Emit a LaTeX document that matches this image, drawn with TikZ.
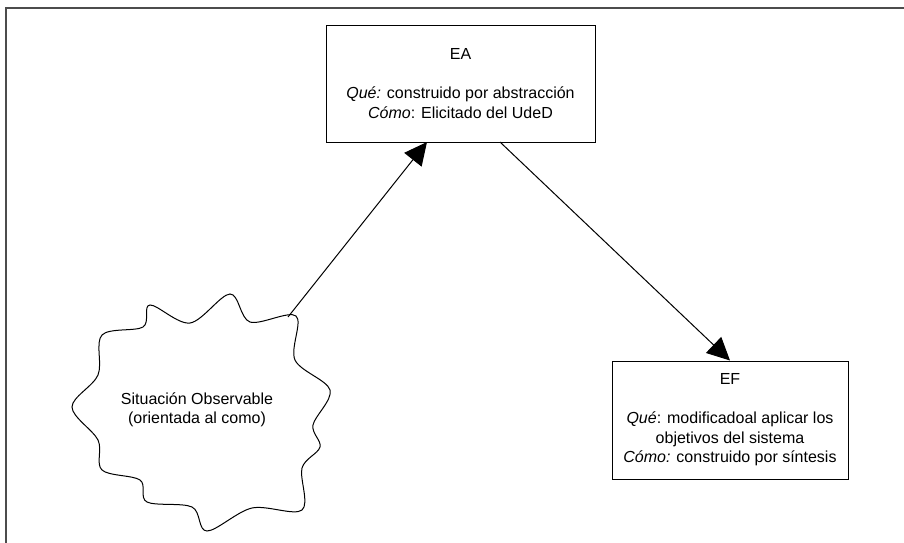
\documentclass[tikz,border=0pt]{standalone}
\usepackage{fontspec}
\setmainfont{Liberation Sans}
\usetikzlibrary{arrows.meta,positioning}

\definecolor{framegray}{gray}{0.3}
\tikzstyle{box} = [draw, rectangle, line width=0.75pt, align=center, inner sep=0pt, font=\fontsize{12}{14.6}\selectfont]

\begin{document}
\begin{tikzpicture}[x=0.75pt,y=-0.75pt,
		flow/.style={line width=0.75pt,-{Triangle[length=17pt,width=16.5pt]}},
		sit/.style={align=center,font=\fontsize{12}{14.6}\selectfont}]
		\useasboundingbox (0,0) rectangle (904,543);
		% frame
		\draw[framegray, line width=1.2pt] (6,543) -- (6,8) -- (904,8);
		% boxes
		\node (ea)[box, minimum width=201.75pt, minimum height=87.75pt] at (460.5,83.5)
		{EA\\[14.6pt]\textit{Qué:} construido por abstracción\\\textit{Cómo}: Elicitado del UdeD};
		\node (ef)[box, minimum width=177pt, minimum height=88.5pt] at (730,420)
		{EF\\[14.6pt]\textit{Qué}: modificadoal aplicar los\\objetivos del sistema\\\textit{Cómo:} construido por síntesis};
		% cloud
		\draw[line width=0.75pt] plot[smooth cycle, tension=0.55] coordinates {
			(230,294) (250,322) (296,316) (295,360) (330,390) (313,425)
			(320,447) (302,468) (302,510) (252,508) (207,531) (192,507)
			(147,502) (140,480) (102,470) (98,440) (72,407) (98,375)
			(102,335) (143,327) (150,305) (190,323)};
		\node (so)[sit] at (197,410) {Situación Observable\\(orientada al como)};
		\coordinate (so-out) at (288,317);
		\coordinate (ea-in) at (427,142);
		\coordinate (ea-out) at (500,142);
		% connectors
		\draw[flow] (so-out) -- (ea-in);
		\draw[flow] (ea-out) -- (ef.north);
	\end{tikzpicture}
\end{document}
